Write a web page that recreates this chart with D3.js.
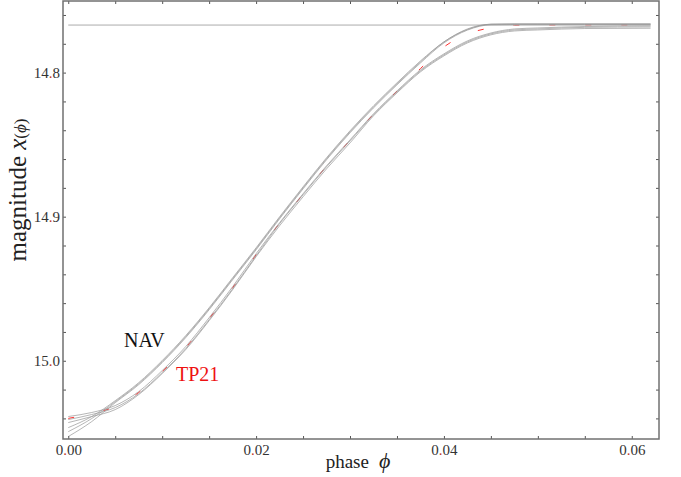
<!DOCTYPE html>
<head>
  <meta charset = "utf-8">
  <title>magnitude vs phase</title>
  <script src = "https://cdn.jsdelivr.net/npm/d3@7"></script>
  <style>
  body { margin: 0; background: #fff; }
  .curves path { fill: none; stroke: #969696; stroke-width: 0.7px; }
  .tick line { stroke: #555; }
  .tick text { font-family: "Liberation Serif", "Times New Roman", serif; font-size: 15px; fill: #333; }
  </style>
</head>

<body>
  <script type="text/javascript">
    var WIDTH = 681;
    var HEIGHT = 477;

    // phase grid shared by every curve
    var phases = [0, 0.0025, 0.005, 0.0075, 0.01, 0.0125, 0.015, 0.0175, 0.02, 0.0225, 0.025, 0.0275,
                  0.03, 0.0325, 0.035, 0.0375, 0.04, 0.0425, 0.045, 0.0475, 0.05, 0.055, 0.062];

    // NAV model curves (grey)
    var navA1 = [15.0526, 15.0422, 15.0291, 15.0166, 15.0013, 14.9840, 14.9646, 14.9438, 14.9230, 14.9015, 14.8807, 14.8605,
                 14.8418, 14.8245, 14.8085, 14.7933, 14.7794, 14.7705, 14.7668, 14.7666, 14.7666, 14.7666, 14.7666];
    var navA2 = [15.0492, 15.0401, 15.0284, 15.0159, 15.0006, 14.9833, 14.9639, 14.9431, 14.9223, 14.9008, 14.8800, 14.8598,
                 14.8411, 14.8238, 14.8078, 14.7926, 14.7787, 14.7701, 14.7664, 14.7662, 14.7662, 14.7662, 14.7662];
    var navA3 = [15.0464, 15.0387, 15.0277, 15.0152, 14.9999, 14.9826, 14.9632, 14.9424, 14.9216, 14.9001, 14.8793, 14.8591,
                 14.8404, 14.8231, 14.8071, 14.7919, 14.7787, 14.7697, 14.7664, 14.7662, 14.7662, 14.7662, 14.7662];
    var navB1 = [15.0387, 15.0359, 15.0311, 15.0214, 15.0068, 14.9902, 14.9701, 14.9486, 14.9257, 14.9042, 14.8841, 14.8647,
                 14.8467, 14.8286, 14.8127, 14.7981, 14.7870, 14.7780, 14.7725, 14.7697, 14.7690, 14.7680, 14.7676];
    var navB2 = [15.0408, 15.0373, 15.0325, 15.0228, 15.0082, 14.9916, 14.9715, 14.9500, 14.9271, 14.9049, 14.8848, 14.8654,
                 14.8474, 14.8293, 14.8134, 14.7988, 14.7877, 14.7787, 14.7731, 14.7704, 14.7697, 14.7686, 14.7683];
    var navB3 = [15.0429, 15.0387, 15.0339, 15.0235, 15.0089, 14.9923, 14.9722, 14.9507, 14.9278, 14.9063, 14.8862, 14.8668,
                 14.8488, 14.8300, 14.8141, 14.7995, 14.7884, 14.7794, 14.7738, 14.7711, 14.7704, 14.7694, 14.7692];

    // TP21 curve (red, mostly hidden under the grey ones)
    var tp21 = [15.0400, 15.0366, 15.0318, 15.0220, 15.0075, 14.9909, 14.9708, 14.9493, 14.9264, 14.9045, 14.8844, 14.8650,
                14.8470, 14.8289, 14.8129, 14.7972, 14.7822, 14.7732, 14.7689, 14.7671, 14.7670, 14.7669, 14.7669];

    // flat reference line
    var flatPhase = [0, 0.062];
    var flatMag = [14.767, 14.767];

    var xTicks = [0, 0.005, 0.01, 0.015, 0.02, 0.025, 0.03, 0.035, 0.04, 0.045, 0.05, 0.055, 0.06];
    var xLabels = [0, 0.02, 0.04, 0.06];
    var yTicks = [14.76, 14.78, 14.8, 14.82, 14.84, 14.86, 14.88, 14.9, 14.92, 14.94, 14.96, 14.98, 15.0, 15.02, 15.04];
    var yLabels = [14.8, 14.9, 15.0];

    // plot frame (window.top is read-only, so no bare "top")
    var frameL = 63, frameR = 659, frameT = 1, frameB = 439;

    var svg = d3.select("body").append("svg")
                .attr("width", WIDTH)
                .attr("height", HEIGHT);

    var x = d3.scaleLinear().domain([-0.00056, 0.0629]).range([frameL, frameR]);
    var y = d3.scaleLinear().domain([14.7503, 15.0543]).range([frameT, frameB]);

    function isLabel(list, d){
      return list.some(function(v){ return Math.abs(v - d) < 1e-9; });
    }

    // split "0.02" into digits + a reddish decimal point, like the original print
    function redDot(sel){
      sel.selectAll(".tick text").each(function(){
        var t = d3.select(this);
        var s = t.text();
        t.text(null);
        if(!s) return;
        var i = s.indexOf(".");
        t.append("tspan").text(s.slice(0, i));
        t.append("tspan").attr("fill", "#c0392b").text(".");
        t.append("tspan").text(s.slice(i + 1));
      });
    }

    var line = d3.line()
                 .x(function(d){ return x(d[0]); })
                 .y(function(d){ return y(d[1]); })
                 .curve(d3.curveMonotoneX);

    function pairs(xs, ys){
      return xs.map(function(v, i){ return [v, ys[i]]; });
    }

    // red TP21 first so the grey curves sit on top
    svg.append("path")
       .attr("d", line(pairs(phases, tp21)))
       .attr("fill", "none")
       .attr("stroke", "#ff3030")
       .attr("stroke-width", 1)
       .attr("stroke-dasharray", "6,30");

    svg.append("path")
       .attr("d", line(pairs(flatPhase, flatMag)))
       .attr("fill", "none")
       .attr("stroke", "#ababab")
       .attr("stroke-width", 1);

    svg.append("g")
       .attr("class", "curves")
       .selectAll("path")
       .data([navA1, navA2, navA3, navB1, navB2, navB3])
       .enter()
       .append("path")
       .attr("d", function(d){ return line(pairs(phases, d)); });

    // axes: ticks point inward, labels only on the round values
    var gx = svg.append("g")
       .attr("transform", "translate(0," + frameB + ")")
       .call(d3.axisBottom(x).tickValues(xTicks).tickSize(-3).tickPadding(5)
         .tickFormat(function(d){ return isLabel(xLabels, d) ? d3.format(".2f")(d) : ""; }));
    gx.select(".domain").remove();
    redDot(gx);

    svg.append("g")
       .attr("transform", "translate(0," + frameT + ")")
       .call(d3.axisTop(x).tickValues(xTicks).tickSize(-3).tickFormat(""))
       .select(".domain").remove();

    var gy = svg.append("g")
       .attr("transform", "translate(" + frameL + ",0)")
       .call(d3.axisLeft(y).tickValues(yTicks).tickSize(-3).tickPadding(3)
         .tickFormat(function(d){ return isLabel(yLabels, d) ? d3.format(".1f")(d) : ""; }));
    gy.select(".domain").remove();
    redDot(gy);

    svg.append("g")
       .attr("transform", "translate(" + frameR + ",0)")
       .call(d3.axisRight(y).tickValues(yTicks).tickSize(-3).tickFormat(""))
       .select(".domain").remove();

    svg.append("rect")
       .attr("x", frameL).attr("y", frameT)
       .attr("width", frameR - frameL).attr("height", frameB - frameT)
       .attr("fill", "none")
       .attr("stroke", "#707070")
       .attr("stroke-width", 1.5);

    // titles
    var serif = "'Liberation Serif', 'Times New Roman', serif";
    var xt = svg.append("text")
       .attr("x", 358).attr("y", 468)
       .attr("text-anchor", "middle")
       .attr("font-family", serif).attr("font-size", 19).attr("fill", "#222");
    xt.append("tspan").text("phase");
    xt.append("tspan").attr("dx", 10).attr("font-size", 22).attr("font-style", "italic").text("\u03d5");

    var yt = svg.append("text")
       .attr("transform", "translate(26,190) rotate(-90)")
       .attr("text-anchor", "middle")
       .attr("font-family", serif).attr("font-size", 25).attr("fill", "#222");
    yt.append("tspan").text("magnitude ");
    yt.append("tspan").attr("font-style", "italic").text("x");
    yt.append("tspan").attr("font-size", 17).text("(");
    yt.append("tspan").attr("font-size", 17).attr("font-style", "italic").text("\u03d5");
    yt.append("tspan").attr("font-size", 17).text(")");

    svg.append("text")
       .attr("x", 124).attr("y", 347)
       .attr("font-family", serif).attr("font-size", 20).attr("fill", "#111")
       .text("NAV");

    svg.append("text")
       .attr("x", 176).attr("y", 381)
       .attr("font-family", serif).attr("font-size", 20).attr("fill", "#ee1111")
       .text("TP21");
  </script>
</body>
